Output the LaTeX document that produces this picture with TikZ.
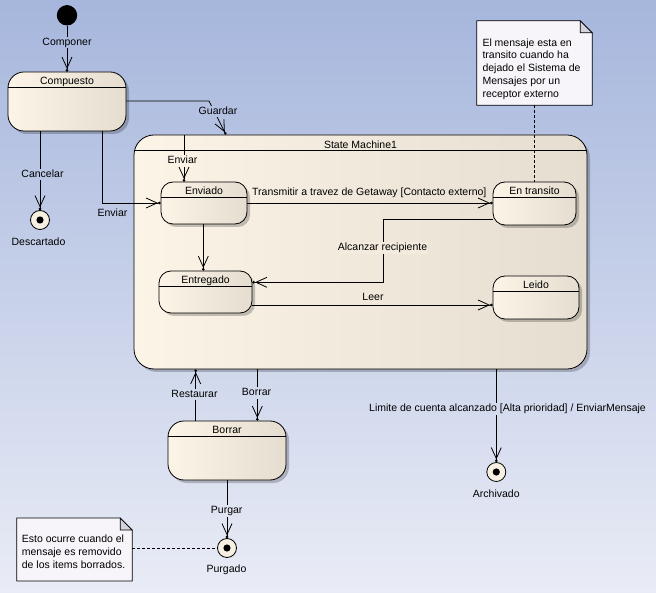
\documentclass[tikz,border=0pt]{standalone}
\usepackage{fontspec}
\setmainfont{Liberation Sans}
\usetikzlibrary{arrows.meta,shadows,calc}
\definecolor{bgtop}{RGB}{166,182,220}
\definecolor{bgbot}{RGB}{233,236,246}
\definecolor{stL}{RGB}{252,245,231}
\definecolor{stR}{RGB}{229,221,207}
\definecolor{notefill}{RGB}{247,245,250}
\definecolor{foldfill}{RGB}{212,212,220}
\definecolor{finfill}{RGB}{246,240,226}
\tikzset{
  every node/.style={font=\fontsize{10.5}{12.8}\selectfont},
  stbox/.style={draw, line width=0.8pt, rounded corners=#1, left color=stL, right color=stR,
    drop shadow={shadow xshift=3pt,shadow yshift=-3pt,fill=black,opacity=0.22}, inner sep=0pt},
  stbox/.default=12pt,
  sepline/.style={line width=0.8pt},
  lbl/.style={inner sep=1pt, text height=7.5pt, text depth=2.2pt},
  tr/.style={line width=0.8pt, -{Straight Barb[length=11pt,width=10pt,line width=0.8pt]Circle[length=2.6pt]}},
  finalst/.style={circle, draw, line width=0.8pt, fill=finfill, minimum size=19pt, inner sep=0pt},
  notebox/.style={draw, line width=0.8pt, fill=notefill},
  foldbox/.style={draw, line width=0.8pt, fill=foldfill, line join=miter},
  notelink/.style={line width=0.8pt, dash pattern=on 3pt off 2pt},
  notetext/.style={inner sep=0pt, align=left, anchor=north west}
}
\newcommand\umlstate[7]{%
  \node[stbox=#6, minimum width=#4pt, minimum height=#5pt] (#1) at (#2,#3) {};
  \draw[sepline] ([yshift=-16pt]#1.north west) -- ([yshift=-16pt]#1.north east);
  \node[lbl, inner sep=0pt] (#1-title) at ([yshift=-10.3pt]#1.north) {#7};}
\newcommand\umlfinal[3]{%
  \node[finalst] (#1) at (#2,#3) {};
  \fill (#1.center) circle (3.6pt);}
\newcommand\umlnote[5]{% name, cx, cy, w, h
  \node[minimum width=#4pt, minimum height=#5pt, inner sep=0pt] (#1) at (#2,#3) {};
  \draw[notebox] (#1.north west) -- ([xshift=-12pt]#1.north east) -- ([yshift=-12pt]#1.north east)
     -- (#1.south east) -- (#1.south west) -- cycle;
  \draw[foldbox] ([xshift=-12pt]#1.north east) -- ([xshift=-12pt,yshift=-12pt]#1.north east)
     -- ([yshift=-12pt]#1.north east) -- cycle;}
\begin{document}
\begin{tikzpicture}[x=1pt,y=-1pt]
\useasboundingbox (0,0) rectangle (656,593);
\shade[top color=bgtop, bottom color=bgbot] (0,0) rectangle (656,593);

% state machine container
\node[stbox=20pt, minimum width=453pt, minimum height=234pt] (SM) at (360.5,252) {};
\draw[sepline] ([yshift=-16pt]SM.north west) -- ([yshift=-16pt]SM.north east);
\node[lbl, inner sep=0pt] (SM-title) at (360.5,145.5) {State Machine1};

% initial
\node[circle, fill=black, minimum size=20.4pt, inner sep=0pt] (init) at (67,15.3) {};

% states
\umlstate{Compuesto}{67}{101.5}{118}{59}{16pt}{Compuesto}
\umlstate{Enviado}{204}{203}{86}{42}{12pt}{Enviado}
\umlstate{EnTransito}{534.5}{203.5}{83}{43}{12pt}{En transito}
\umlstate{Entregado}{205.5}{292}{93}{42}{12pt}{Entregado}
\umlstate{Leido}{536}{297.5}{86}{43}{12pt}{Leido}
\umlstate{Borrar}{227}{450.5}{118}{59}{16pt}{Borrar}

% final states
\umlfinal{Descartado}{40}{220}
\umlfinal{Archivado}{496.3}{472}
\umlfinal{Purgado}{227}{548}
\node[lbl] (DescartadoL) at (38.5,242.5) {Descartado};
\node[lbl] (ArchivadoL) at (496.3,495) {Archivado};
\node[lbl] (PurgadoL) at (226.5,570) {Purgado};

% notes
\umlnote{note2}{534.5}{63}{115}{84}
\node[notetext] (note2t) at (482.3,38.3) {El mensaje esta en\\transito cuando ha\\dejado el Sistema de\\Mensajes por un\\receptor externo};
\umlnote{note1}{74.5}{549.5}{115}{62.5}
\node[notetext] (note1t) at (21.7,535) {Esto ocurre cuando el\\mensaje es removido\\de los items borrados.};

% transitions
\draw[tr] (init) -- (Compuesto);
\node[lbl, fill=bgbot!7!bgtop] (lComponer) at (67,42.5) {Componer};

\draw[tr] (Compuesto.south -| Descartado.north) -- (Descartado.north);
\node[lbl, fill=bgbot!29!bgtop] (lCancelar) at (42.5,174.5) {Cancelar};

\draw[tr] (Compuesto.south -| 102,0) |- (Enviado.west);
\node[lbl] (lEnviar1) at (112.5,213.5) {Enviar};

\draw[tr] (Compuesto.east |- 0,101) -- (209,101) -- (SM.north -| 226,0);
\node[lbl, fill=bgbot!19!bgtop] (lGuardar) at (218,111.5) {Guardar};

\draw[tr] (SM.north -| 184,0) -- (Enviado.north -| 184,0);
\node[lbl, fill=stL!92!stR] (lEnviar2) at (182.5,161) {Enviar};

\draw[tr] (Enviado.east) -- (Enviado.east -| EnTransito.west);
\node[lbl, anchor=west] (lTransmitir) at (251,192.5) {Transmitir a travez de Getaway [Contacto externo]};

\draw[tr] (EnTransito.west |- 0,219.3) -| (383,282.3) -- (Entregado.east |- 0,282.3);
\node[lbl, fill=stL!60!stR] (lAlcanzar) at (382.5,248) {Alcanzar recipiente};

\draw[tr] (Enviado.south -| 203.3,0) -- (Entregado.north -| 203.3,0);

\draw[tr] (Entregado.east |- 0,305) -- (Leido.west |- 0,305);
\node[lbl] (lLeer) at (373,297.5) {Leer};

\draw[tr] (SM.south -| Archivado.north) -- (Archivado.north);
\node[lbl, fill=bgbot!69!bgtop] (lLimite) at (507.5,409) {Limite de cuenta alcanzado [Alta prioridad] / EnviarMensaje};

\draw[tr] (Borrar.north -| 195.7,0) -- (SM.south -| 195.7,0);
\node[lbl, fill=bgbot!66!bgtop] (lRestaurar) at (194.5,394.5) {Restaurar};

\draw[tr] (SM.south -| 257.3,0) -- (Borrar.north -| 257.3,0);
\node[lbl, fill=bgbot!66!bgtop] (lBorrar) at (256.5,393) {Borrar};

\draw[tr] (Borrar.south) -- (Purgado.north);
\node[lbl, fill=bgbot!86!bgtop] (lPurgar) at (226.7,511) {Purgar};

% note links
\draw[notelink] (note2.south -| EnTransito.north) -- (EnTransito.north);
\draw[notelink] (note1.east |- Purgado.west) -- (Purgado.west);
\end{tikzpicture}
\end{document}
